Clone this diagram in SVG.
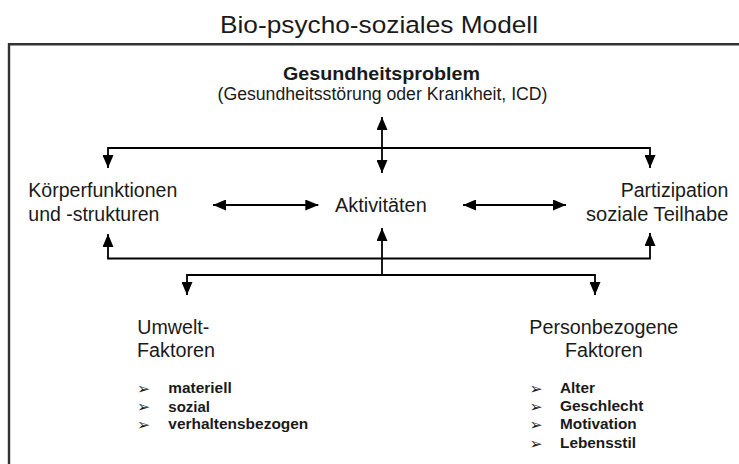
<svg xmlns="http://www.w3.org/2000/svg" width="739" height="464" viewBox="0 0 739 464">
  <defs>
    <marker id="ah" markerUnits="userSpaceOnUse" markerWidth="13" markerHeight="11" refX="13" refY="5.5" orient="auto-start-reverse" viewBox="0 0 13 11">
      <path d="M0,0 L13,5.5 L0,11 Z" fill="#000"/>
    </marker>
    <style>
      .t { font-family: "Liberation Sans", Arial, sans-serif; fill: #1a1a1a; }
      .lbl { font-size: 19.5px; }
      .b { font-weight: bold; }
      .it { font-family: "Liberation Sans", Arial, sans-serif; font-size: 15px; font-weight: bold; fill: #1a1a1a; }
      .bul { font-family: "DejaVu Sans", sans-serif; font-size: 15.5px; fill: #1a1a1a; }
      .ln { fill: none; stroke: #000; stroke-width: 1.8; }
      .dbl { marker-start: url(#ah); marker-end: url(#ah); }
      .one { marker-end: url(#ah); }
    </style>
  </defs>
  <rect width="739" height="464" fill="#fff"/>

  <g id="title">
    <text class="t" x="379" y="33" font-size="24.5" text-anchor="middle" textLength="318" lengthAdjust="spacingAndGlyphs">Bio-psycho-soziales Modell</text>
  </g>

  <g id="frame">
    <path d="M9,470 V44.3 H745" fill="none" stroke="#333" stroke-width="2.4"/>
  </g>

  <g id="gesundheitsproblem">
    <text class="t b" x="381.5" y="80" font-size="18.5" text-anchor="middle" textLength="197" lengthAdjust="spacingAndGlyphs">Gesundheitsproblem</text>
    <text class="t" x="382.5" y="100" font-size="17.5" text-anchor="middle" textLength="330" lengthAdjust="spacingAndGlyphs">(Gesundheitsstörung oder Krankheit, ICD)</text>
  </g>

  <g id="koerperfunktionen">
    <text class="t lbl" x="28.3" y="197" textLength="149" lengthAdjust="spacingAndGlyphs">Körperfunktionen</text>
    <text class="t lbl" x="28.3" y="220.7" textLength="131" lengthAdjust="spacingAndGlyphs">und -strukturen</text>
  </g>

  <g id="aktivitaeten">
    <text class="t lbl" x="335" y="211.7" textLength="91.7" lengthAdjust="spacingAndGlyphs">Aktivitäten</text>
  </g>

  <g id="partizipation">
    <text class="t lbl" x="728.3" y="196.7" text-anchor="end" textLength="107.6" lengthAdjust="spacingAndGlyphs">Partizipation</text>
    <text class="t lbl" x="728.3" y="220.7" text-anchor="end" textLength="142.3" lengthAdjust="spacingAndGlyphs">soziale Teilhabe</text>
  </g>

  <g id="umweltfaktoren">
    <text class="t lbl" x="137.3" y="334.3" textLength="72" lengthAdjust="spacingAndGlyphs">Umwelt-</text>
    <text class="t lbl" x="137" y="357.3" textLength="78" lengthAdjust="spacingAndGlyphs">Faktoren</text>
    <text class="bul" x="137" y="393.8">➢</text>
    <text class="bul" x="137" y="412.2">➢</text>
    <text class="bul" x="137" y="429.8">➢</text>
    <text class="it" x="168.3" y="393.3" textLength="63.4" lengthAdjust="spacingAndGlyphs">materiell</text>
    <text class="it" x="168.3" y="411.7">sozial</text>
    <text class="it" x="168.3" y="429.3" textLength="140" lengthAdjust="spacingAndGlyphs">verhaltensbezogen</text>
  </g>

  <g id="personbezogene-faktoren">
    <text class="t lbl" x="529.3" y="334.3" textLength="149" lengthAdjust="spacingAndGlyphs">Personbezogene</text>
    <text class="t lbl" x="565" y="357" textLength="77.7" lengthAdjust="spacingAndGlyphs">Faktoren</text>
    <text class="bul" x="529.5" y="393.8">➢</text>
    <text class="bul" x="529.5" y="411.5">➢</text>
    <text class="bul" x="529.5" y="429.5">➢</text>
    <text class="bul" x="529.5" y="448.8">➢</text>
    <text class="it" x="560" y="393.3" textLength="35" lengthAdjust="spacingAndGlyphs">Alter</text>
    <text class="it" x="560" y="411" textLength="83.3" lengthAdjust="spacingAndGlyphs">Geschlecht</text>
    <text class="it" x="560" y="429" textLength="76.7" lengthAdjust="spacingAndGlyphs">Motivation</text>
    <text class="it" x="560" y="448.3" textLength="76" lengthAdjust="spacingAndGlyphs">Lebensstil</text>
  </g>

  <g id="connectors">
    <path class="ln dbl" d="M382,117 V173"/>
    <path class="ln one" d="M382,148 H108 V168"/>
    <path class="ln one" d="M382,148 H650 V168"/>
    <path class="ln dbl" d="M213,205 H318.3"/>
    <path class="ln dbl" d="M463,205 H566"/>
    <path class="ln dbl" d="M108,234 V258.5 H650 V233"/>
    <path class="ln one" d="M382,275 V228"/>
    <path class="ln dbl" d="M187,295 V275 H595 V295"/>
  </g>
</svg>
